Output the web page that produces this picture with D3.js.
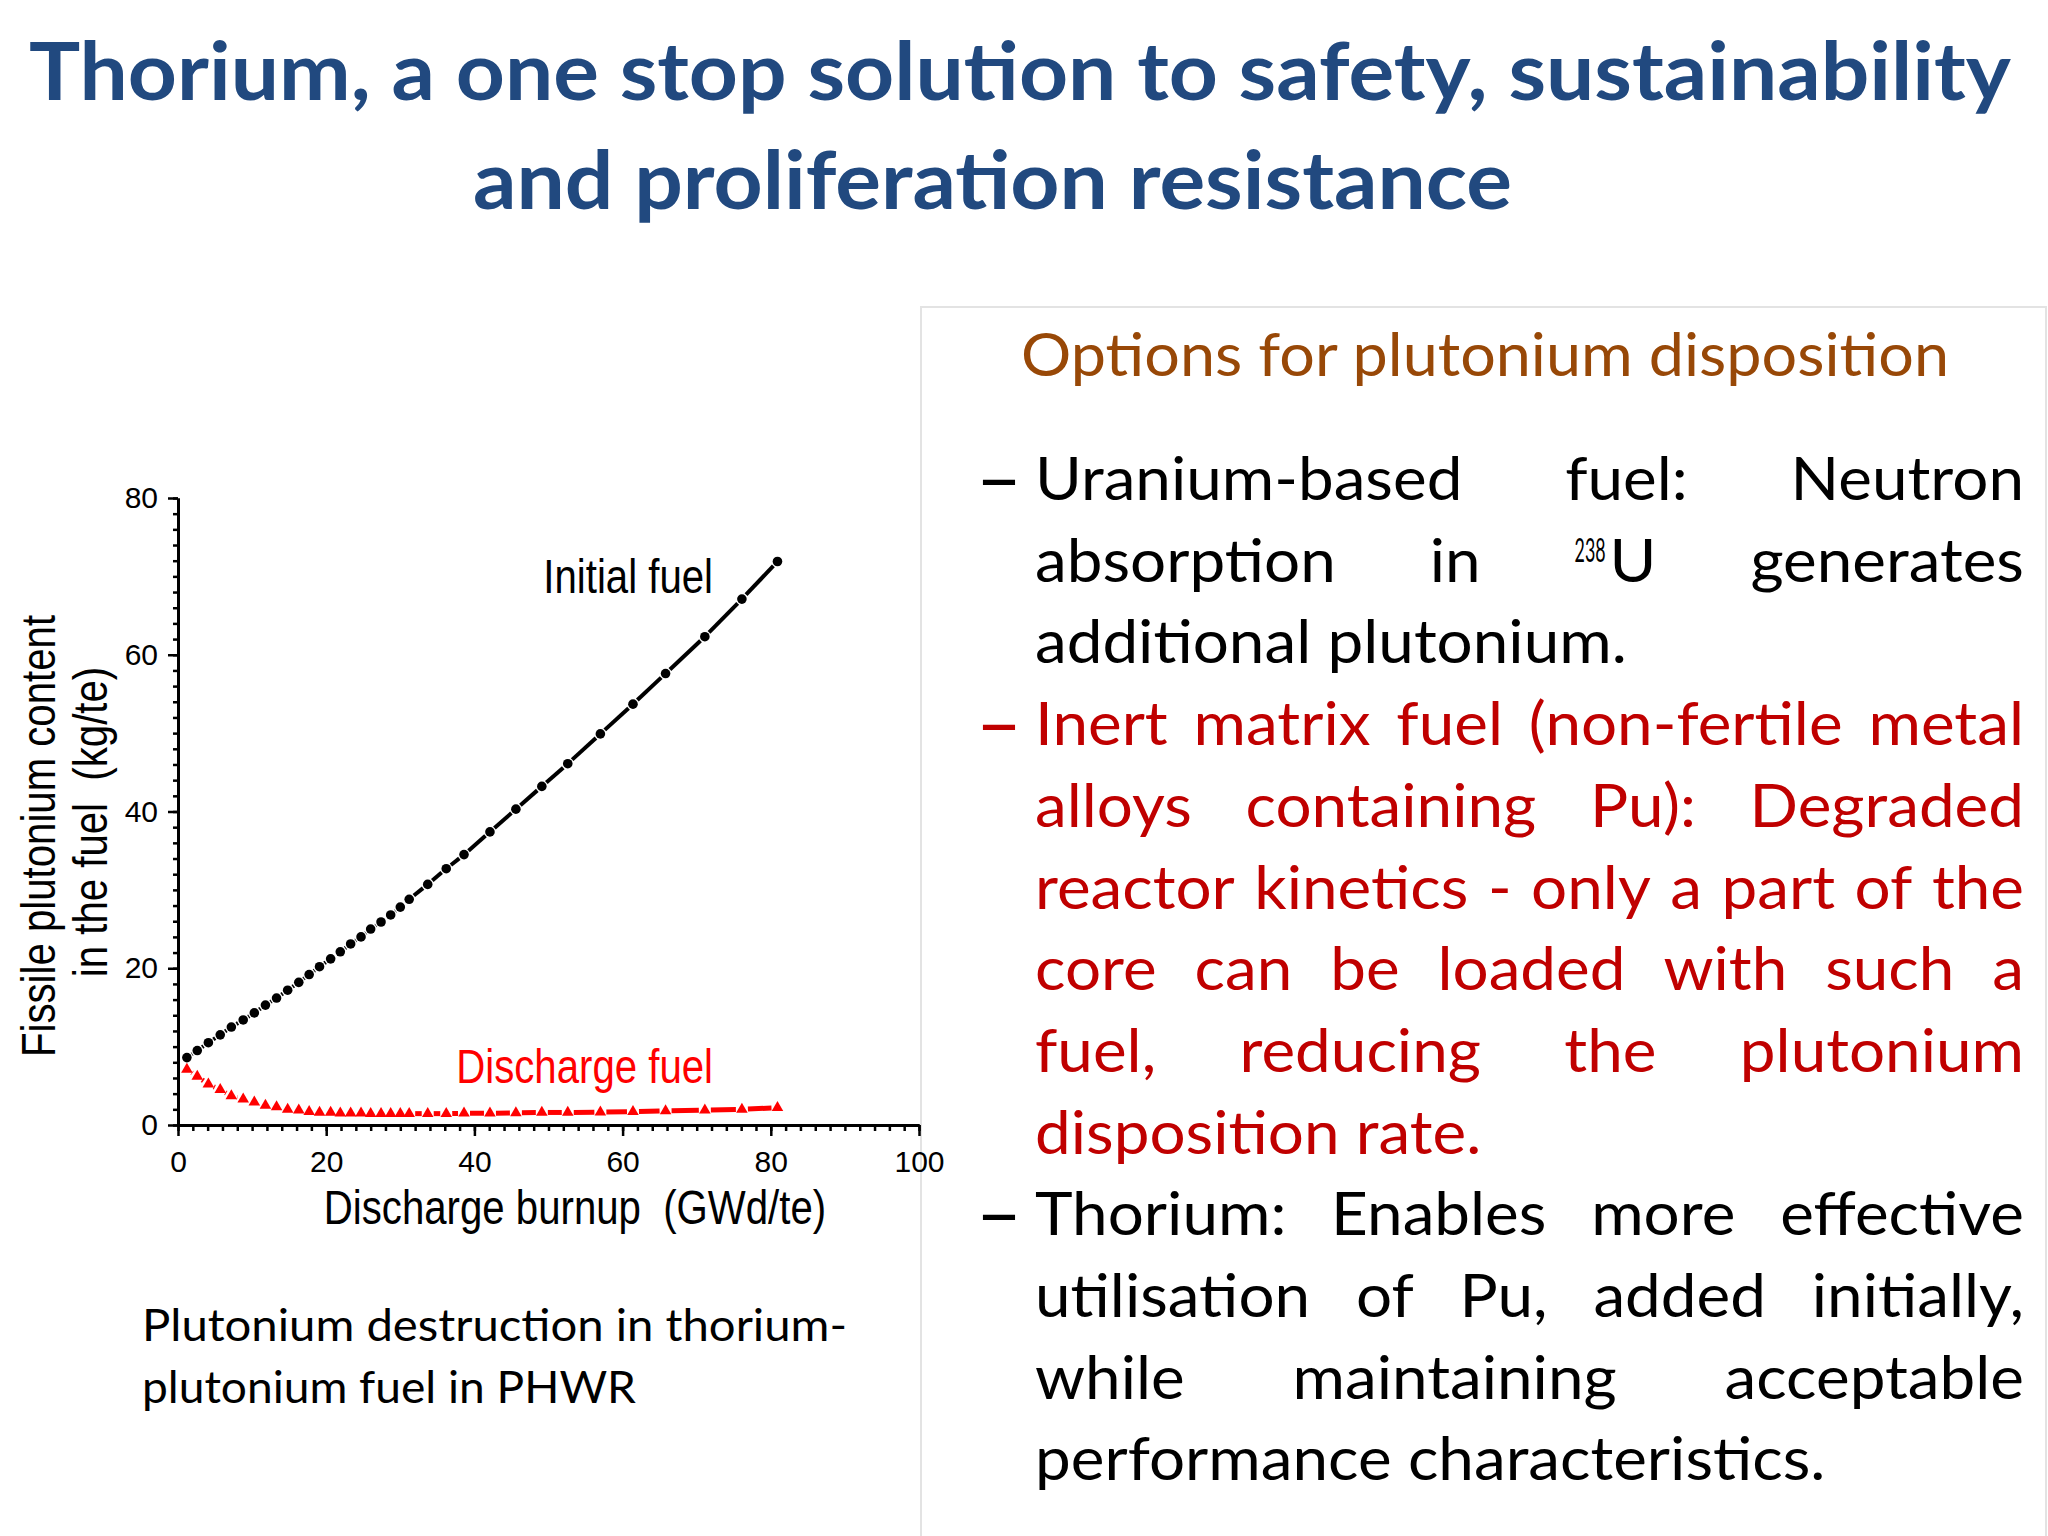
<!DOCTYPE html>
<html>
<head>
<meta charset="utf-8">
<script src="https://cdn.jsdelivr.net/npm/d3@7"></script>
<style>
body { margin: 0; background: #fff; }
</style>
</head>
<body>
<script>
// burnup (GWd/te) shared by both curves
var burnup = [1.2, 2.6, 4.1, 5.7, 7.2, 8.8, 10.3, 11.8, 13.3, 14.8, 16.3, 17.7, 19.1, 20.6, 21.9, 23.3, 24.7, 26.0, 27.4, 28.7,
              30.0, 31.2, 33.7, 36.2, 38.6, 42.1, 45.6, 49.1, 52.6, 57.0, 61.4, 65.8, 71.1, 76.1, 80.9];
// fissile Pu (kg/te)
var initialFuel = [8.6, 9.5, 10.5, 11.5, 12.5, 13.4, 14.3, 15.3, 16.2, 17.2, 18.2, 19.2, 20.2, 21.2, 22.1, 23.1, 24.0, 25.0, 25.9, 26.8,
                   27.8, 28.8, 30.7, 32.7, 34.5, 37.4, 40.3, 43.2, 46.1, 49.9, 53.7, 57.6, 62.3, 67.1, 71.9];
var dischargeFuel = [7.1, 6.2, 5.2, 4.5, 3.7, 3.3, 2.9, 2.5, 2.3, 2.0, 1.9, 1.7, 1.6, 1.6, 1.5, 1.5, 1.5, 1.45, 1.45, 1.45,
                     1.45, 1.45, 1.45, 1.45, 1.5, 1.5, 1.55, 1.6, 1.6, 1.65, 1.7, 1.8, 1.9, 2.0, 2.2];
var xTicks = [0, 20, 40, 60, 80, 100];
var yTicks = [0, 20, 40, 60, 80];
var xMinor = d3.range(0, 101, 2);
var yMinor = d3.range(0, 81, 2);

var titleLines = ["Thorium, a one stop solution to safety, sustainability", "and proliferation resistance"];
var heading = "Options for plutonium disposition";
var captionLines = ["Plutonium destruction in thorium-", "plutonium fuel in PHWR"];
var xTitle = "Discharge burnup  (GWd/te)";
var yTitle = ["Fissile plutonium content", "in the fuel  (kg/te)"];
var bullets = [
  {colour: "#000000", lines: [["Uranium-based", "fuel:", "Neutron"],
                              ["absorption", "in", "{238}U", "generates"],
                              ["additional", "plutonium."]]},
  {colour: "#C00000", lines: [["Inert", "matrix", "fuel", "(non-fertile", "metal"],
                              ["alloys", "containing", "Pu):", "Degraded"],
                              ["reactor", "kinetics", "-", "only", "a", "part", "of", "the"],
                              ["core", "can", "be", "loaded", "with", "such", "a"],
                              ["fuel,", "reducing", "the", "plutonium"],
                              ["disposition", "rate."]]},
  {colour: "#000000", lines: [["Thorium:", "Enables", "more", "effective"],
                              ["utilisation", "of", "Pu,", "added", "initially,"],
                              ["while", "maintaining", "acceptable"],
                              ["performance", "characteristics."]]}
];

var svg = d3.select("body").append("svg")
    .attr("width", 2048)
    .attr("height", 1536);

svg.append("rect").attr("width", 2048).attr("height", 1536).attr("fill", "#fff");

// panel frame goes under everything
svg.append("rect")
    .attr("x", 921).attr("y", 307).attr("width", 1125).attr("height", 1300)
    .attr("fill", "#fff").attr("stroke", "#e3e3e3").attr("stroke-width", 2);

// ---- title ----
var titleX = [29, 473], titleW = [1982, 1039], titleY = [100, 209];
svg.selectAll(".title").data(titleLines).enter().append("text")
    .attr("class", "title")
    .attr("x", function(d, i) { return titleX[i]; })
    .attr("y", function(d, i) { return titleY[i]; })
    .attr("textLength", function(d, i) { return titleW[i]; })
    .attr("lengthAdjust", "spacingAndGlyphs")
    .attr("font-family", "Lato")
    .attr("font-weight", 700)
    .attr("font-size", 81)
    .attr("fill", "#21497F")
    .text(function(d) { return d; });

// ---- chart ----
var x = d3.scaleLinear().domain([0, 100]).range([178, 919]);
var y = d3.scaleLinear().domain([0, 80]).range([1125, 498]);

var chart = svg.append("g");

function axisStyle(g) {
  g.selectAll("path").attr("stroke", "#000").attr("stroke-width", 3);
  g.selectAll("line").attr("stroke", "#000").attr("stroke-width", 2.5);
  g.selectAll("text").attr("font-family", "Liberation Sans, Arial, sans-serif").attr("font-size", 30).attr("fill", "#000");
}

var xMinorG = chart.append("g").attr("transform", "translate(0," + y(0) + ")")
    .call(d3.axisBottom(x).tickValues(xMinor).tickSize(6).tickSizeOuter(0).tickFormat(""))
    .call(axisStyle);
xMinorG.selectAll("text").remove();
chart.append("g").attr("transform", "translate(0," + y(0) + ")")
    .call(d3.axisBottom(x).tickValues(xTicks).tickSize(11).tickSizeOuter(0).tickPadding(15))
    .call(axisStyle);
var yMinorG = chart.append("g").attr("transform", "translate(" + x(0) + ",0)")
    .call(d3.axisLeft(y).tickValues(yMinor).tickSize(5).tickSizeOuter(0).tickFormat(""))
    .call(axisStyle);
yMinorG.selectAll("text").remove();
chart.append("g").attr("transform", "translate(" + x(0) + ",0)")
    .call(d3.axisLeft(y).tickValues(yTicks).tickSize(10).tickSizeOuter(0).tickPadding(10))
    .call(axisStyle);

// line pieces between markers, leaving a gap round each symbol
function gapSegments(vals, gap) {
  var segs = [];
  for (var i = 0; i < vals.length - 1; i++) {
    var x1 = x(burnup[i]), y1 = y(vals[i]), x2 = x(burnup[i + 1]), y2 = y(vals[i + 1]);
    var len = Math.hypot(x2 - x1, y2 - y1);
    if (len <= 2 * gap) continue;
    var ux = (x2 - x1) / len, uy = (y2 - y1) / len;
    segs.push([x1 + ux * gap, y1 + uy * gap, x2 - ux * gap, y2 - uy * gap]);
  }
  return segs;
}

function drawLine(vals, colour, width, gap) {
  chart.append("g").selectAll("line").data(gapSegments(vals, gap)).enter().append("line")
      .attr("x1", function(d) { return d[0]; })
      .attr("y1", function(d) { return d[1]; })
      .attr("x2", function(d) { return d[2]; })
      .attr("y2", function(d) { return d[3]; })
      .attr("stroke", colour)
      .attr("stroke-width", width);
}

drawLine(initialFuel, "#000", 4, 6);
drawLine(dischargeFuel, "#FF0000", 5, 6);

chart.append("g").selectAll("circle").data(initialFuel).enter().append("circle")
    .attr("cx", function(d, i) { return x(burnup[i]); })
    .attr("cy", function(d) { return y(d); })
    .attr("r", 4.8)
    .attr("fill", "#000");

chart.append("g").selectAll("path").data(dischargeFuel).enter().append("path")
    .attr("d", d3.symbol().type(d3.symbolTriangle).size(58))
    .attr("transform", function(d, i) { return "translate(" + x(burnup[i]) + "," + y(d) + ")"; })
    .attr("fill", "#FF0000");

// condensed labels (Arial Narrow look)
function narrow(tx, ty, str, anchor, colour, rot) {
  return chart.append("text")
      .attr("transform", "translate(" + tx + "," + ty + ")" + (rot ? " rotate(" + rot + ")" : "") + " scale(0.82,1)")
      .attr("text-anchor", anchor)
      .attr("font-family", "Liberation Sans, Arial, sans-serif")
      .attr("font-size", 49)
      .attr("fill", colour)
      .style("white-space", "pre")
      .text(str);
}

narrow(713, 593, "Initial fuel", "end", "#000");
narrow(713, 1083, "Discharge fuel", "end", "#FF0000");
narrow(575, 1224, xTitle, "middle", "#000");
narrow(55, 836, yTitle[0], "middle", "#000", -90);
narrow(107, 822, yTitle[1], "middle", "#000", -90);

// caption
var capY = [1341, 1403], capW = [705, 494];
svg.selectAll(".caption").data(captionLines).enter().append("text")
    .attr("class", "caption")
    .attr("x", 142)
    .attr("y", function(d, i) { return capY[i]; })
    .attr("textLength", function(d, i) { return capW[i]; })
    .attr("lengthAdjust", "spacingAndGlyphs")
    .attr("font-family", "Lato")
    .attr("font-size", 44)
    .attr("fill", "#000")
    .text(function(d) { return d; });

// ---- right panel ----
svg.append("text")
    .attr("x", 1021).attr("y", 376)
    .attr("textLength", 928).attr("lengthAdjust", "spacingAndGlyphs")
    .attr("font-family", "Lato").attr("font-size", 60)
    .attr("fill", "#984807")
    .text(heading);

var panel = svg.append("g")
    .attr("font-family", "Lato")
    .attr("font-size", 60);

// a word is a list of pieces; a superscript prefix like {238} becomes its own small piece
function addWord(w, colour) {
  var m = /^\{(\d+)\}(.*)$/.exec(w);
  var pieces = [];
  if (m) {
    var sup = panel.append("text").attr("fill", colour).attr("font-size", 33).text(m[1]);
    pieces.push({el: sup, w: 31, dy: -20, pad: 4});
    var main = panel.append("text").attr("fill", colour).text(m[2]);
    pieces.push({el: main, w: null, dy: 0, pad: 0});
  } else {
    pieces.push({el: panel.append("text").attr("fill", colour).text(w), w: null, dy: 0, pad: 0});
  }
  return pieces;
}

// squeeze factor so Lato widths resemble the original face
var probe = panel.append("text").text("additional plutonium. disposition rate. performance characteristics.");
var squeeze = (596 + 446 + 789 + 2 * 15) / probe.node().getComputedTextLength();
var spaceW = (panel.append("text").text("a a").node().getComputedTextLength() -
              2 * panel.append("text").text("a").node().getComputedTextLength()) * squeeze;
panel.selectAll("text").remove();

var left = 1035, right = 2024, base0 = 500, step = 81.7;
var lineNo = 0;
bullets.forEach(function(b) {
  b.lines.forEach(function(words, li) {
    var by = base0 + lineNo * step;
    if (li === 0) {
      panel.append("text").attr("x", 976).attr("y", by).attr("fill", b.colour)
          .attr("font-weight", 700)
          .attr("textLength", 46).attr("lengthAdjust", "spacingAndGlyphs").text("\u2013");
    }
    var words2 = words.map(function(w) {
      var pieces = addWord(w, b.colour);
      pieces.forEach(function(p) {
        if (p.w === null) p.w = p.el.node().getComputedTextLength() * squeeze;
      });
      return pieces;
    });
    var widths = words2.map(function(ps) { return d3.sum(ps, function(p) { return p.w + p.pad; }); });
    var total = d3.sum(widths);
    var last = li === b.lines.length - 1;
    var gap = last ? spaceW : (right - left - total) / (words.length - 1);
    var cx = left;
    words2.forEach(function(ps, k) {
      var px = cx;
      ps.forEach(function(p) {
        p.el.attr("x", px).attr("y", by + p.dy)
            .attr("textLength", p.w).attr("lengthAdjust", "spacingAndGlyphs");
        px += p.w + p.pad;
      });
      cx += widths[k] + gap;
    });
    lineNo++;
  });
});
</script>
</body>
</html>
